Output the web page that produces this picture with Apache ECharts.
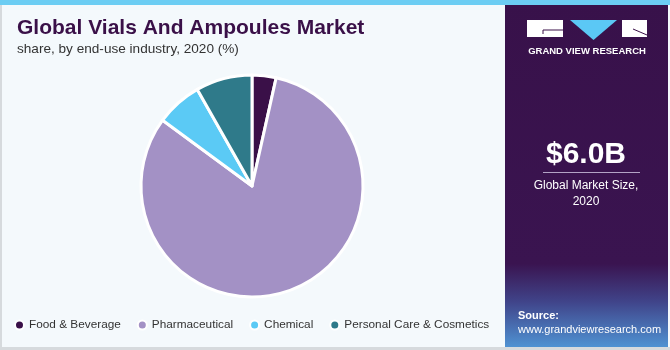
<!DOCTYPE html>
<html><head><meta charset="utf-8">
<script src="https://cdn.jsdelivr.net/npm/echarts@6/dist/echarts.min.js"></script>
<style>html,body{margin:0;padding:0;background:#fff}#c{width:670px;height:350px}</style>
</head><body><div id="c"></div>
<script>
var categories = ['Food & Beverage', 'Pharmaceutical', 'Chemical', 'Personal Care & Cosmetics'];
var shares = [3.5, 81.6, 6.7, 8.2];
var colors = ['#3a1048', '#a391c5', '#5bcaf5', '#2f7a8a'];

var chart = echarts.init(document.getElementById('c'), null, {renderer: 'canvas'});
var data = categories.map(function (c, i) { return {name: c, value: shares[i], itemStyle: {color: colors[i]}}; });
var F = '"Liberation Sans", Arial, sans-serif';
chart.setOption({
  animation: false,
  backgroundColor: '#f4f9fc',
  graphic: [
    {type: 'rect', shape: {x: 0, y: 0, width: 2, height: 350}, style: {fill: '#d6dadd'}, z: 1},
    {type: 'rect', shape: {x: 0, y: 347, width: 670, height: 3}, style: {fill: '#d6dadd'}, z: 1},
    {type: 'rect', shape: {x: 505, y: 0, width: 163, height: 347},
      style: {fill: new echarts.graphic.LinearGradient(0, 0, 0, 1, [
        {offset: 0, color: '#38114a'}, {offset: 0.76, color: '#3a1450'},
        {offset: 0.87, color: '#40448a'}, {offset: 1, color: '#4f92d2'}])}, z: 1},
    {type: 'rect', shape: {x: 0, y: 0, width: 670, height: 5}, style: {fill: '#6ccdf3'}, z: 2},
    // logo
    {type: 'rect', shape: {x: 527, y: 20, width: 36, height: 17}, style: {fill: '#ffffff'}, z: 3},
    {type: 'polyline', shape: {points: [[563, 30], [543, 30], [543, 34]]}, style: {stroke: '#3a1048', lineWidth: 1, fill: null}, z: 4},
    {type: 'polygon', shape: {points: [[570, 20], [617, 20], [593.5, 40]]}, style: {fill: '#5bc8f5'}, z: 3},
    {type: 'rect', shape: {x: 622, y: 20, width: 25, height: 17}, style: {fill: '#ffffff'}, z: 3},
    {type: 'line', shape: {x1: 633, y1: 29, x2: 647, y2: 35}, style: {stroke: '#3a1048', lineWidth: 1}, z: 4},
    {type: 'text', x: 587, y: 51, style: {text: 'GRAND VIEW RESEARCH', fill: '#ffffff', font: 'bold 9.5px ' + F, textAlign: 'center', textVerticalAlign: 'middle'}, z: 3},
    {type: 'text', x: 586, y: 155, style: {text: '$6.0B', fill: '#ffffff', font: 'bold 30px ' + F, textAlign: 'center', textVerticalAlign: 'middle'}, z: 3},
    {type: 'rect', shape: {x: 543, y: 172, width: 97, height: 1}, style: {fill: '#b3a3c6'}, z: 3},
    {type: 'text', x: 586, y: 186, style: {text: 'Global Market Size,', fill: '#ffffff', font: '12px ' + F, textAlign: 'center', textVerticalAlign: 'middle'}, z: 3},
    {type: 'text', x: 586, y: 202, style: {text: '2020', fill: '#ffffff', font: '12px ' + F, textAlign: 'center', textVerticalAlign: 'middle'}, z: 3},
    {type: 'text', x: 518, y: 316, style: {text: 'Source:', fill: '#ffffff', font: 'bold 11px ' + F, textVerticalAlign: 'middle'}, z: 3},
    {type: 'text', x: 518, y: 330, style: {text: 'www.grandviewresearch.com', fill: '#ffffff', font: '11px ' + F, textVerticalAlign: 'middle'}, z: 3},
    {type: 'text', x: 17, y: 28, style: {text: 'Global Vials And Ampoules Market', fill: '#3a1048', font: '900 21px ' + F, textVerticalAlign: 'middle'}, z: 3},
    {type: 'text', x: 17, y: 49, style: {text: 'share, by end-use industry, 2020 (%)', fill: '#333333', font: '13.6px ' + F, textVerticalAlign: 'middle'}, z: 3}
  ],
  legend: {
    left: 9, top: 314, icon: 'circle', itemWidth: 9, itemHeight: 9, itemGap: 16,
    textStyle: {color: '#333333', fontSize: 11.8, fontFamily: 'Liberation Sans'},
    data: categories
  },
  series: [{
    type: 'pie', center: [252, 186], radius: [0, 111], startAngle: 90, clockwise: true,
    label: {show: false}, labelLine: {show: false}, silent: true,
    itemStyle: {borderColor: '#ffffff', borderWidth: 3},
    data: data
  }]
});
</script></body></html>
